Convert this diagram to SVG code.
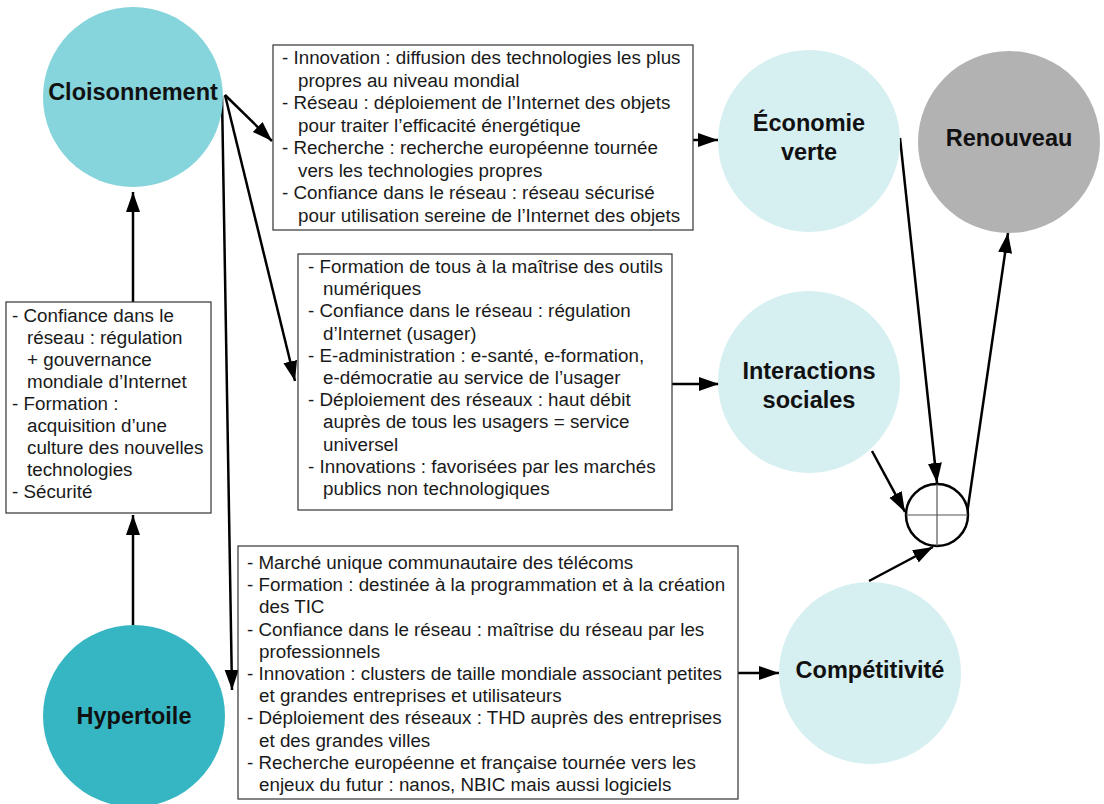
<svg xmlns="http://www.w3.org/2000/svg" width="1104" height="804" viewBox="0 0 1104 804">
<style>
.lbl{font-family:"Liberation Sans",Arial,Helvetica,sans-serif;font-weight:bold;font-size:23.5px;fill:#111;text-anchor:middle}
.txt{font-family:"Liberation Sans",Arial,Helvetica,sans-serif;font-size:18.8px;fill:#1a1a1a}
.box{fill:#fff;stroke:#333;stroke-width:1.2}
.con{stroke:#000;stroke-width:2.5;fill:none}
</style>
<defs>
<marker id="arr" markerUnits="userSpaceOnUse" markerWidth="22" markerHeight="16" refX="20" refY="7" orient="auto">
<path d="M0,0 L20,7 L0,14 z" fill="#000"/>
</marker>
</defs>
<rect width="1104" height="804" fill="#fff"/>

<g id="connectors">
<line class="con" x1="133" y1="302" x2="133" y2="192" marker-end="url(#arr)"/>
<line class="con" x1="133" y1="625" x2="133" y2="515" marker-end="url(#arr)"/>
<line class="con" x1="225" y1="95" x2="272" y2="141" marker-end="url(#arr)"/>
<line class="con" x1="225" y1="95" x2="295" y2="381" marker-end="url(#arr)"/>
<line class="con" x1="222" y1="96" x2="232" y2="690" marker-end="url(#arr)"/>
<line class="con" x1="693" y1="140" x2="718" y2="140" marker-end="url(#arr)"/>
<line class="con" x1="672" y1="384" x2="719" y2="384" marker-end="url(#arr)"/>
<line class="con" x1="738" y1="673" x2="779" y2="673" marker-end="url(#arr)"/>
<line class="con" x1="900" y1="138" x2="937" y2="483" marker-end="url(#arr)"/>
<line class="con" x1="872" y1="451" x2="905" y2="512" marker-end="url(#arr)"/>
<line class="con" x1="869" y1="581" x2="933" y2="547" marker-end="url(#arr)"/>
<line class="con" x1="967" y1="514" x2="1008" y2="233" marker-end="url(#arr)"/>
</g>

<g id="cloisonnement">
<circle cx="133" cy="97" r="90" fill="#86D4DC"/>
<text class="lbl" x="133" y="100">Cloisonnement</text>
</g>

<g id="hypertoile">
<circle cx="134" cy="716" r="91" fill="#36B6C3"/>
<text class="lbl" x="134" y="724">Hypertoile</text>
</g>

<g id="economie-verte">
<circle cx="809" cy="141" r="91" fill="#D6EFF1"/>
<text class="lbl" x="809" y="131">Économie</text>
<text class="lbl" x="809" y="160">verte</text>
</g>

<g id="renouveau">
<circle cx="1009" cy="142" r="91" fill="#B2B2B3"/>
<text class="lbl" x="1009" y="146">Renouveau</text>
</g>

<g id="interactions-sociales">
<circle cx="809" cy="382" r="91" fill="#D6EFF1"/>
<text class="lbl" x="809" y="379">Interactions</text>
<text class="lbl" x="809" y="408">sociales</text>
</g>

<g id="competitivite">
<circle cx="870" cy="673" r="91" fill="#D6EFF1"/>
<text class="lbl" x="870" y="678">Compétitivité</text>
</g>

<g id="somme">
<circle cx="937" cy="515" r="31" fill="#fff" stroke="#000" stroke-width="2.5"/>
<line x1="906" y1="515" x2="968" y2="515" stroke="#555" stroke-width="1.2"/>
<line x1="937" y1="484" x2="937" y2="546" stroke="#555" stroke-width="1.2"/>
</g>

<g id="box-securite">
<rect class="box" x="6" y="302" width="205" height="211"/>
<text class="txt">
<tspan x="12" y="322">- Confiance dans le</tspan>
<tspan x="27" y="344">réseau : régulation</tspan>
<tspan x="27" y="366">+ gouvernance</tspan>
<tspan x="27" y="388">mondiale d’Internet</tspan>
<tspan x="12" y="410">- Formation :</tspan>
<tspan x="27" y="432">acquisition d’une</tspan>
<tspan x="27" y="454">culture des nouvelles</tspan>
<tspan x="27" y="476">technologies</tspan>
<tspan x="12" y="498">- Sécurité</tspan>
</text>
</g>

<g id="box-economie">
<rect class="box" x="273" y="45" width="420" height="185"/>
<text class="txt">
<tspan x="282" y="64">- Innovation : diffusion des technologies les plus</tspan>
<tspan x="298" y="86.5">propres au niveau mondial</tspan>
<tspan x="282" y="109">- Réseau : déploiement de l’Internet des objets</tspan>
<tspan x="298" y="131.5">pour traiter l’efficacité énergétique</tspan>
<tspan x="282" y="154">- Recherche : recherche européenne tournée</tspan>
<tspan x="298" y="176.5">vers les technologies propres</tspan>
<tspan x="282" y="199">- Confiance dans le réseau : réseau sécurisé</tspan>
<tspan x="298" y="221.5">pour utilisation sereine de l’Internet des objets</tspan>
</text>
</g>

<g id="box-interactions">
<rect class="box" x="298" y="254" width="374" height="256"/>
<text class="txt">
<tspan x="308" y="273">- Formation de tous à la maîtrise des outils</tspan>
<tspan x="323" y="295">numériques</tspan>
<tspan x="308" y="317">- Confiance dans le réseau : régulation</tspan>
<tspan x="323" y="339.5">d’Internet (usager)</tspan>
<tspan x="308" y="361.5">- E-administration : e-santé, e-formation,</tspan>
<tspan x="323" y="384">e-démocratie au service de l’usager</tspan>
<tspan x="308" y="406">- Déploiement des réseaux : haut débit</tspan>
<tspan x="323" y="428">auprès de tous les usagers = service</tspan>
<tspan x="323" y="450.5">universel</tspan>
<tspan x="308" y="472.5">- Innovations : favorisées par les marchés</tspan>
<tspan x="323" y="494.5">publics non technologiques</tspan>
</text>
</g>

<g id="box-competitivite">
<rect class="box" x="238" y="546" width="500" height="253"/>
<text class="txt">
<tspan x="247" y="569">- Marché unique communautaire des télécoms</tspan>
<tspan x="247" y="591">- Formation : destinée à la programmation et à la création</tspan>
<tspan x="259" y="613">des TIC</tspan>
<tspan x="247" y="635.5">- Confiance dans le réseau : maîtrise du réseau par les</tspan>
<tspan x="259" y="657.5">professionnels</tspan>
<tspan x="247" y="680">- Innovation : clusters de taille mondiale associant petites</tspan>
<tspan x="259" y="702">et grandes entreprises et utilisateurs</tspan>
<tspan x="247" y="724">- Déploiement des réseaux : THD auprès des entreprises</tspan>
<tspan x="259" y="746.5">et des grandes villes</tspan>
<tspan x="247" y="768.5">- Recherche européenne et française tournée vers les</tspan>
<tspan x="259" y="790.5">enjeux du futur : nanos, NBIC mais aussi logiciels</tspan>
</text>
</g>
</svg>
